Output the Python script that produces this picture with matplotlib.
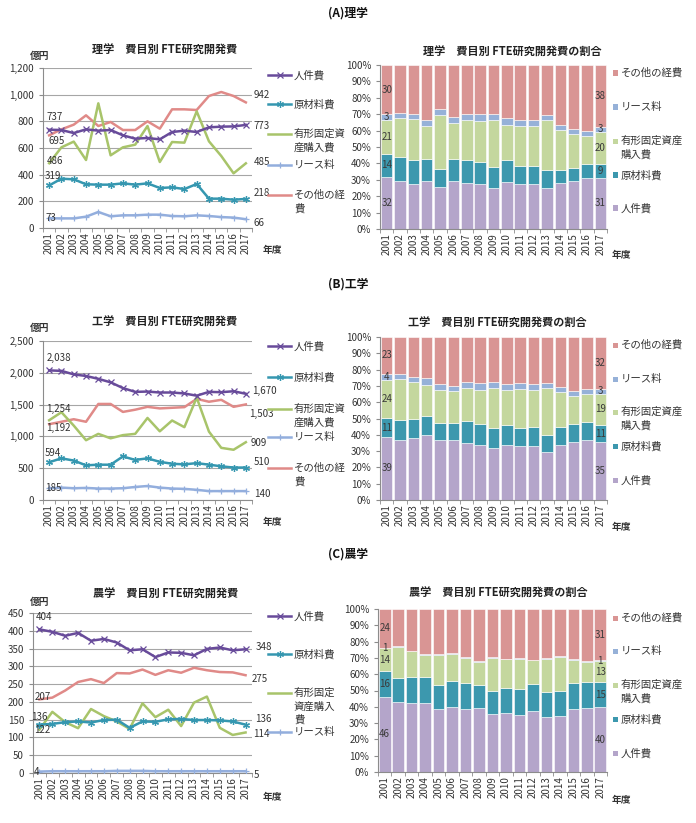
import matplotlib
matplotlib.use('Agg')
import matplotlib.pyplot as plt
import numpy as np
from matplotlib.lines import Line2D
from matplotlib.patches import Rectangle
from matplotlib.ticker import FuncFormatter, MultipleLocator

plt.rcParams['font.family'] = ['Noto Sans CJK JP', 'DejaVu Sans']

W, H = 696, 823

years = [str(y) for y in range(2001, 2018)]
series_names = ['人件費', '原材料費', '有形固定資産購入費', 'リース料', 'その他の経費']

# ---------------- 理学 (億円) ----------------
sci_personnel = [737, 735, 712, 740, 730, 735, 695, 670, 675, 665, 720, 730, 720, 755, 760, 762, 773]
sci_material = [319, 370, 365, 328, 325, 325, 335, 325, 335, 300, 305, 292, 330, 220, 220, 212, 218]
sci_tangible = [486, 605, 648, 510, 935, 545, 605, 625, 765, 495, 645, 640, 875, 650, 540, 410, 485]
sci_lease = [73, 72, 72, 85, 120, 88, 95, 95, 100, 100, 90, 88, 95, 90, 82, 78, 66]
sci_other = [695, 740, 775, 845, 765, 795, 735, 735, 800, 745, 890, 890, 885, 990, 1020, 990, 942]
sci_first_pct = [32, 14, 21, 3, 30]
sci_last_pct = [31, 9, 20, 3, 38]

# ---------------- 工学 (億円) ----------------
eng_personnel = [2038, 2030, 1975, 1950, 1905, 1850, 1760, 1700, 1705, 1690, 1690, 1675, 1640, 1700, 1695, 1710, 1670]
eng_material = [594, 655, 620, 545, 555, 555, 685, 630, 655, 600, 570, 560, 580, 555, 530, 510, 510]
eng_tangible = [1254, 1380, 1170, 940, 1040, 970, 1020, 1040, 1290, 1080, 1250, 1145, 1610, 1075, 820, 790, 909]
eng_lease = [185, 195, 185, 190, 180, 180, 185, 205, 220, 195, 180, 175, 160, 140, 140, 140, 140]
eng_other = [1192, 1230, 1270, 1230, 1510, 1510, 1385, 1420, 1465, 1440, 1450, 1460, 1590, 1545, 1575, 1465, 1503]
eng_first_pct = [39, 11, 24, 4, 23]
eng_last_pct = [35, 11, 19, 3, 32]

# ---------------- 農学 (億円) ----------------
agr_personnel = [404, 397, 386, 394, 372, 377, 367, 345, 348, 326, 339, 338, 331, 349, 353, 345, 348]
agr_material = [136, 138, 143, 145, 142, 149, 150, 127, 145, 144, 151, 152, 149, 149, 148, 145, 136]
agr_tangible = [122, 172, 143, 126, 180, 160, 145, 124, 196, 157, 178, 132, 198, 215, 127, 107, 114]
agr_lease = [4, 5, 5, 5, 5, 5, 6, 6, 6, 5, 5, 5, 5, 5, 5, 5, 5]
agr_other = [207, 212, 232, 256, 264, 253, 281, 280, 291, 276, 289, 282, 296, 289, 284, 283, 275]
agr_first_pct = [46, 16, 14, 1, 24]
agr_last_pct = [40, 15, 13, 1, 31]

line_colors = ['#684B9A', '#3597B0', '#A8C46A', '#93AEDD', '#E08A88']
bar_colors = ['#B4A5CA', '#3C98AE', '#C4D79E', '#96B1D8', '#D99594']
markers = ['x', (6, 2, 0), None, '+', None]

fig = plt.figure(figsize=(W / 100, H / 100), dpi=100)


def px_axes(x0, y0, x1, y1):
    return fig.add_axes([x0 / W, 1 - y1 / H, (x1 - x0) / W, (y1 - y0) / H])


def ftext(x, y, s, **kw):
    kw.setdefault('ha', 'center')
    kw.setdefault('va', 'center')
    kw.setdefault('fontsize', 7)
    kw.setdefault('color', '#333333')
    fig.text(x / W, 1 - y / H, s, **kw)


def legend_line(x0, x1, y, color, marker):
    xs = [x0 / W, (x0 + x1) / 2 / W, x1 / W]
    ys = [1 - y / H] * 3
    ln = Line2D(xs, ys, transform=fig.transFigure, color=color, lw=1.8,
                marker=marker, markevery=[1], markersize=5, markeredgewidth=0.9)
    fig.add_artist(ln)


def legend_square(x, y, color):
    fig.add_artist(Rectangle((x / W - 2.5 / W, 1 - y / H - 2.5 / H), 5 / W, 5 / H,
                             transform=fig.transFigure, color=color, lw=0))


def style_common(ax):
    for s in ['top', 'right']:
        ax.spines[s].set_visible(False)
    for s in ['left', 'bottom']:
        ax.spines[s].set_color('#8C8C8C')
        ax.spines[s].set_linewidth(0.8)
    ax.set_xlim(-0.5, 16.5)
    ax.set_xticks(range(17))
    ax.set_xticklabels(years, rotation=90, fontsize=7, color='#333333')
    ax.set_xticks(np.arange(-0.5, 17, 1), minor=True)
    ax.tick_params(axis='x', which='major', length=0, pad=3)
    ax.tick_params(axis='x', which='minor', length=3, color='#8C8C8C')
    ax.tick_params(axis='y', labelsize=7, labelcolor='#333333', length=3, color='#8C8C8C')


def line_chart(rect, data, ymax, ystep, title, title_xy, unit_xy, nendo_xy,
               first_off, last_off, first_txt, last_txt):
    ax = px_axes(*rect)
    x = np.arange(17)
    for i, vals in enumerate(data):
        ax.plot(x, vals, color=line_colors[i], lw=1.8, marker=markers[i],
                markersize=5, markeredgewidth=0.9, zorder=3 + (4 - i) * 0.1)
    ax.set_ylim(0, ymax)
    ax.yaxis.set_major_locator(MultipleLocator(ystep))
    ax.yaxis.set_major_formatter(FuncFormatter(lambda v, p: f'{int(v):,}'))
    ax.grid(axis='y', color='#A6A6A6', lw=0.8)
    ax.set_axisbelow(True)
    style_common(ax)
    for i, vals in enumerate(data):
        ax.annotate(first_txt[i], (0, vals[0]), xytext=first_off[i], textcoords='offset pixels',
                    ha='center', va='center', fontsize=7, color='#333333', zorder=6)
        ax.annotate(last_txt[i], (16, vals[-1]), xytext=last_off[i], textcoords='offset pixels',
                    ha='center', va='center', fontsize=7, color='#333333', zorder=6,
                    annotation_clip=False)
    ftext(*title_xy, title, fontsize=8, fontweight='bold', color='#222222')
    ftext(*unit_xy, '億円', fontsize=7, fontweight='bold')
    ftext(*nendo_xy, '年度', fontsize=7, fontweight='bold')
    return ax


def bar_chart(rect, data, title, title_xy, nendo_xy, first_pct, last_pct):
    ax = px_axes(*rect)
    arr = np.array(data, dtype=float)
    share = arr / arr.sum(axis=0) * 100
    x = np.arange(17)
    bottom = np.zeros(17)
    for i in range(5):
        ax.bar(x, share[i], bottom=bottom, width=0.86, color=bar_colors[i],
               edgecolor='white', linewidth=0.4)
        ax.text(0, bottom[0] + share[i][0] / 2, str(first_pct[i]), ha='center', va='center',
                fontsize=7, color='#3A3A3A')
        ax.text(16, bottom[-1] + share[i][-1] / 2, str(last_pct[i]), ha='center', va='center',
                fontsize=7, color='#3A3A3A')
        bottom += share[i]
    ax.set_ylim(0, 100)
    ax.yaxis.set_major_locator(MultipleLocator(10))
    ax.yaxis.set_major_formatter(FuncFormatter(lambda v, p: f'{int(v)}%'))
    style_common(ax)
    ftext(*title_xy, title, fontsize=8, fontweight='bold', color='#222222')
    ftext(*nendo_xy, '年度', fontsize=7, fontweight='bold')
    return ax


def line_legend(entries):
    # entries: (series index, y, text lines)
    for idx, y, lines in entries:
        legend_line(268, 291, y, line_colors[idx], markers[idx])
        for k, t in enumerate(lines):
            ftext(294, y + k * 13.5, t, ha='left', fontsize=7.5)


def bar_legend(entries):
    for idx, y, lines in entries:
        legend_square(615, y, bar_colors[idx])
        for k, t in enumerate(lines):
            ftext(621, y + k * 13.5, t, ha='left', fontsize=7.5)


# ---- section titles ----
ftext(348, 13, '(A)理学', fontsize=8.5, fontweight='bold', color='#111111')
ftext(348, 284, '(B)工学', fontsize=8.5, fontweight='bold', color='#111111')
ftext(348, 554, '(C)農学', fontsize=8.5, fontweight='bold', color='#111111')

# ---- 理学 ----
sci = [sci_personnel, sci_material, sci_tangible, sci_lease, sci_other]
line_chart((43, 68, 252, 228), sci, 1200, 200, '理学　費目別 FTE研究開発費', (165, 50), (40, 56), (272, 250),
           [(5, 13), (4, 9), (6, 2), (2, 0), (7, -6)],
           [(16, -1), (16, 6), (16, 1), (13, -4), (16, 7)],
           [str(sci_personnel[0]), str(sci_material[0]), str(sci_tangible[0]), str(sci_lease[0]), str(sci_other[0])],
           [str(sci_personnel[-1]), str(sci_material[-1]), str(sci_tangible[-1]), str(sci_lease[-1]), str(sci_other[-1])])
line_legend([(0, 75, ['人件費']), (1, 104, ['原材料費']), (2, 134, ['有形固定資', '産購入費']),
             (3, 165, ['リース料']), (4, 195, ['その他の経', '費'])])
bar_chart((380, 65, 607, 229), sci, '理学　費目別 FTE研究開発費の割合', (512, 52), (621, 255),
          sci_first_pct, sci_last_pct)
bar_legend([(4, 73, ['その他の経費']), (3, 107, ['リース料']), (2, 141, ['有形固定資産', '購入費']),
            (1, 175, ['原材料費']), (0, 208, ['人件費'])])

# ---- 工学 ----
eng = [eng_personnel, eng_material, eng_tangible, eng_lease, eng_other]
fmt = lambda v: f'{v:,}'
line_chart((43, 341, 252, 500), eng, 2500, 500, '工学　費目別 FTE研究開発費', (165, 322), (40, 328), (272, 522),
           [(10, 12), (4, 9), (9, 11), (4, 0), (9, -4)],
           [(19, 3), (16, 6), (13, -1), (16, -3), (16, -10)],
           [fmt(s[0]) for s in eng], [fmt(s[-1]) for s in eng])
line_legend([(0, 346, ['人件費']), (1, 377, ['原材料費']), (2, 409, ['有形固定資', '産購入費']),
             (3, 437, ['リース料']), (4, 468, ['その他の経', '費'])])
bar_chart((380, 337, 607, 500), eng, '工学　費目別 FTE研究開発費の割合', (497, 323), (621, 527),
          eng_first_pct, eng_last_pct)
bar_legend([(4, 345, ['その他の経費']), (3, 379, ['リース料']), (2, 412, ['有形固定資産', '購入費']),
            (1, 446, ['原材料費']), (0, 480, ['人件費'])])

# ---- 農学 ----
agr = [agr_personnel, agr_material, agr_tangible, agr_lease, agr_other]
line_chart((33, 613, 252, 773), agr, 450, 50, '農学　費目別 FTE研究開発費', (166, 594), (40, 602), (272, 797),
           [(5, 12), (0, 8), (3, 0), (-3, 0), (3, 2)],
           [(18, 2), (18, 6), (16, -2), (11, -4), (14, -4)],
           [str(s[0]) for s in agr], [str(s[-1]) for s in agr])
line_legend([(0, 616, ['人件費']), (1, 654, ['原材料費']), (2, 693, ['有形固定', '資産購入', '費']),
             (3, 732, ['リース料'])])
bar_chart((378, 609, 607, 772), agr, '農学　費目別 FTE研究開発費の割合', (498, 593), (621, 800),
          agr_first_pct, agr_last_pct)
bar_legend([(4, 618, ['その他の経費']), (3, 651, ['リース料']), (2, 685, ['有形固定資産', '購入費']),
            (1, 719, ['原材料費']), (0, 753, ['人件費'])])

fig.savefig('out.png', dpi=100)
